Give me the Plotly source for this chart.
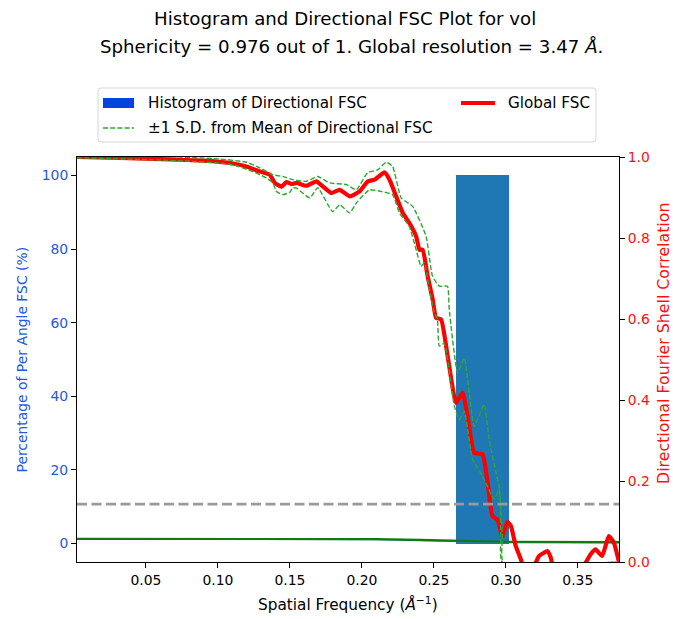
import plotly.graph_objects as go

# ---- data -------------------------------------------------------------
# Global FSC curve (right axis)
fsc_freq = [0.0021, 0.0322, 0.0668, 0.0897, 0.1015, 0.1105, 0.1202, 0.1292, 0.1361, 0.1395,
            0.1442, 0.1476, 0.1511, 0.1546, 0.1615, 0.1684, 0.1730, 0.1788, 0.1846, 0.1915,
            0.1984, 0.2042, 0.2088, 0.2157, 0.2192, 0.2238, 0.2284, 0.2330, 0.2377, 0.2400,
            0.2422, 0.2457, 0.2492, 0.2515, 0.2550, 0.2596, 0.2654, 0.2699, 0.2734, 0.2780,
            0.2838, 0.2873, 0.2907, 0.2942, 0.2976, 0.3011, 0.3035, 0.3069, 0.3104, 0.3141,
            0.3196, 0.3231, 0.3265, 0.3288, 0.3312, 0.3341, 0.3473, 0.3540, 0.3589, 0.3623,
            0.3669, 0.3715, 0.3750, 0.3786]
fsc_global = [1.000, 0.998, 0.994, 0.991, 0.988, 0.984, 0.976, 0.964, 0.956, 0.936,
              0.927, 0.938, 0.933, 0.936, 0.929, 0.940, 0.927, 0.911, 0.919, 0.903,
              0.915, 0.940, 0.944, 0.962, 0.944, 0.903, 0.862, 0.837, 0.804, 0.771,
              0.771, 0.705, 0.648, 0.603, 0.599, 0.508, 0.393, 0.418, 0.360, 0.270,
              0.266, 0.196, 0.113, 0.105, 0.064, 0.099, 0.089, 0.039, 0.007, -0.030,
              -0.010, 0.015, 0.023, 0.027, 0.011, -0.030, -0.030, -0.010, 0.019, 0.031,
              0.015, 0.064, 0.048, 0.000]

# Mean + 1 S.D. of directional FSC
upper_freq = [0.0021, 0.0530, 0.1015, 0.1202, 0.1292, 0.1382, 0.1451, 0.1520, 0.1615, 0.1693,
              0.1776, 0.1892, 0.1961, 0.2039, 0.2109, 0.2169, 0.2213, 0.2273, 0.2353, 0.2446,
              0.2490, 0.2538, 0.2594, 0.2607, 0.2665, 0.2711, 0.2780, 0.2849, 0.2884, 0.2931,
              0.2954, 0.2965, 0.2976, 0.2981, 0.3786]
upper_sd = [1.005, 1.003, 0.995, 0.987, 0.973, 0.956, 0.952, 0.944, 0.940, 0.952,
            0.936, 0.932, 0.919, 0.961, 0.968, 0.987, 0.977, 0.899, 0.878, 0.804,
            0.706, 0.681, 0.681, 0.623, 0.467, 0.504, 0.335, 0.389, 0.303, 0.221,
            0.187, 0.138, 0.064, 0.000, 0.000]

# Mean - 1 S.D. of directional FSC
lower_freq = [0.0021, 0.0551, 0.0784, 0.1015, 0.1105, 0.1243, 0.1338, 0.1382, 0.1407, 0.1451,
              0.1499, 0.1520, 0.1546, 0.1638, 0.1693, 0.1797, 0.1846, 0.1915, 0.1963, 0.2053,
              0.2143, 0.2213, 0.2261, 0.2330, 0.2377, 0.2411, 0.2434, 0.2469, 0.2503, 0.2524,
              0.2538, 0.2573, 0.2642, 0.2677, 0.2711, 0.2769, 0.2838, 0.2919, 0.2954, 0.2965,
              0.2974, 0.3786]
lower_sd = [0.998, 0.993, 0.990, 0.985, 0.981, 0.964, 0.948, 0.936, 0.915, 0.907,
            0.913, 0.924, 0.923, 0.899, 0.924, 0.865, 0.882, 0.862, 0.887, 0.919,
            0.914, 0.907, 0.862, 0.828, 0.771, 0.730, 0.739, 0.673, 0.615, 0.600,
            0.533, 0.540, 0.385, 0.352, 0.372, 0.253, 0.212, 0.155, 0.179, 0.064,
            0.000, 0.000]

# Histogram of directional resolution (left axis, percent)
hist_left = [0.2651]
hist_right = [0.3022]
hist_pct = [100]

# Low-level per-angle trace near zero (left axis, percent)
base_freq = [0.0021, 0.10, 0.17, 0.21, 0.24, 0.26, 0.28, 0.30, 0.3786]
base_green = [1.30, 1.28, 1.25, 1.20, 1.00, 0.80, 0.60, 0.50, 0.40]
base_blue = [1.20, 1.18, 1.15, 1.05, 0.80, 0.55, 0.35, 0.25, 0.20]

threshold = 0.143
x_range = [0.0021, 0.3786]
x_ticks = [0.05, 0.10, 0.15, 0.20, 0.25, 0.30, 0.35]
y_ticks = [0, 20, 40, 60, 80, 100]
y2_ticks = [0.0, 0.2, 0.4, 0.6, 0.8, 1.0]

# ---- layout geometry (pixels) ----------------------------------------
W, H = 673, 619
PL, PR, PT, PB = 77, 619, 157, 562
FONT = "DejaVu Sans"
BLUE_TXT = "#2457e6"
RED_TXT = "#ff1010"
TITLE_SIZE = 18.2
LEGEND_SIZE = 15.2
TICK_SIZE = 13.9
XLABEL_SIZE = 15.3
Y2LABEL_SIZE = 15.8


def px(X):
    return (X - PL) / (PR - PL)


def py(Y):
    return (PB - Y) / (PB - PT)


fig = go.Figure()

centers = [(a + b) / 2 for a, b in zip(hist_left, hist_right)]
widths = [b - a for a, b in zip(hist_left, hist_right)]
fig.add_trace(go.Bar(x=centers, y=hist_pct, width=widths, marker=dict(color="#1f77b4", line=dict(width=0)),
                     yaxis="y", showlegend=False))
fig.add_trace(go.Scatter(x=base_freq, y=base_blue, mode="lines", line=dict(color="#1f77b4", width=1.2),
                         yaxis="y", showlegend=False))
fig.add_trace(go.Scatter(x=base_freq, y=base_green, mode="lines", line=dict(color="#127a12", width=2.2),
                         yaxis="y", showlegend=False))

smooth = dict(shape="spline", smoothing=0.45)
fig.add_trace(go.Scatter(x=fsc_freq, y=fsc_global, mode="lines",
                         line=dict(color="#ff0000", width=4.2, **smooth), yaxis="y2", showlegend=False))
fig.add_trace(go.Scatter(x=upper_freq, y=upper_sd, mode="lines",
                         line=dict(color="#2ca82c", width=1.4, dash="5px,2.2px", **smooth),
                         yaxis="y2", showlegend=False))
fig.add_trace(go.Scatter(x=lower_freq, y=lower_sd, mode="lines",
                         line=dict(color="#2ca82c", width=1.4, dash="5px,2.2px", **smooth),
                         yaxis="y2", showlegend=False))
fig.add_trace(go.Scatter(x=x_range, y=[threshold, threshold], mode="lines",
                         line=dict(color="#9a9a9a", width=2.6, dash="10px,4.5px"), yaxis="y2", showlegend=False))

axis_common = dict(showgrid=False, zeroline=False, showline=True, linecolor="#000", linewidth=1,
                   ticks="outside", ticklen=5, tickwidth=1, tickcolor="#000")

fig.update_layout(
    width=W, height=H,
    margin=dict(l=PL, r=W - PR, t=PT, b=H - PB, pad=0),
    paper_bgcolor="white", plot_bgcolor="white",
    font=dict(family=FONT, size=TICK_SIZE, color="#000"),
    xaxis=dict(range=x_range, tickvals=x_ticks, ticktext=[f"{v:.2f}" for v in x_ticks], mirror=True,
               tickfont=dict(size=TICK_SIZE, color="#000"), **axis_common),
    yaxis=dict(range=[-5, 105], tickvals=y_ticks, ticktext=[str(v) for v in y_ticks],
               tickfont=dict(size=TICK_SIZE, color=BLUE_TXT), **axis_common),
    yaxis2=dict(range=[0, 1], overlaying="y", side="right", tickvals=y2_ticks,
                ticktext=[f"{v:.1f}" for v in y2_ticks], tickfont=dict(size=TICK_SIZE, color=RED_TXT),
                **axis_common),
    bargap=0,
)

annotations = [
    dict(text="Histogram and Directional FSC Plot for vol", x=px(345), y=py(18), font=dict(size=TITLE_SIZE)),
    dict(text="Sphericity = 0.976 out of 1. Global resolution = 3.47 <i>Å</i>.", x=px(351), y=py(47),
         font=dict(size=TITLE_SIZE)),
    dict(text="Spatial Frequency (<i>Å</i><sup>−1</sup>)", x=0.5, y=py(604), font=dict(size=XLABEL_SIZE)),
    dict(text="Percentage of Per Angle FSC (%)", x=px(21), y=0.5, textangle=-90,
         font=dict(size=TICK_SIZE, color=BLUE_TXT)),
    dict(text="Directional Fourier Shell Correlation", x=px(663), y=py(344), textangle=-90,
         font=dict(size=Y2LABEL_SIZE, color=RED_TXT)),
    dict(text="Histogram of Directional FSC", x=px(146), y=py(103), xanchor="left", font=dict(size=LEGEND_SIZE)),
    dict(text="Global FSC", x=px(506), y=py(103), xanchor="left", font=dict(size=LEGEND_SIZE)),
    dict(text="±1 S.D. from Mean of Directional FSC", x=px(146), y=py(128), xanchor="left",
         font=dict(size=LEGEND_SIZE)),
]
for a in annotations:
    a.setdefault("xanchor", "center")
    a.update(xref="paper", yref="paper", yanchor="middle", showarrow=False)
fig.update_layout(annotations=annotations)

# legend frame with rounded corners
x0, x1, y0, y1 = px(98), px(596), py(142), py(88)
rx, ry = 3 / (PR - PL), 3 / (PB - PT)
frame = (f"M {x0 + rx},{y0} L {x1 - rx},{y0} Q {x1},{y0} {x1},{y0 + ry} "
         f"L {x1},{y1 - ry} Q {x1},{y1} {x1 - rx},{y1} L {x0 + rx},{y1} Q {x0},{y1} {x0},{y1 - ry} "
         f"L {x0},{y0 + ry} Q {x0},{y0} {x0 + rx},{y0} Z")
shapes = [
    dict(type="path", path=frame, xref="paper", yref="paper", line=dict(color="#d6d6d6", width=1),
         fillcolor="rgba(255,255,255,0.8)"),
    dict(type="rect", xref="paper", yref="paper", x0=px(103), x1=px(134), y0=py(108), y1=py(98),
         fillcolor="#0343df", line=dict(width=0)),
    dict(type="line", xref="paper", yref="paper", x0=px(461), x1=px(495), y0=py(103), y1=py(103),
         line=dict(color="#ff0000", width=4)),
    dict(type="line", xref="paper", yref="paper", x0=px(103), x1=px(134), y0=py(128), y1=py(128),
         line=dict(color="#2ca82c", width=1.6, dash="5px,2.2px")),
]
fig.update_layout(shapes=shapes)

fig.write_html("out.html")
